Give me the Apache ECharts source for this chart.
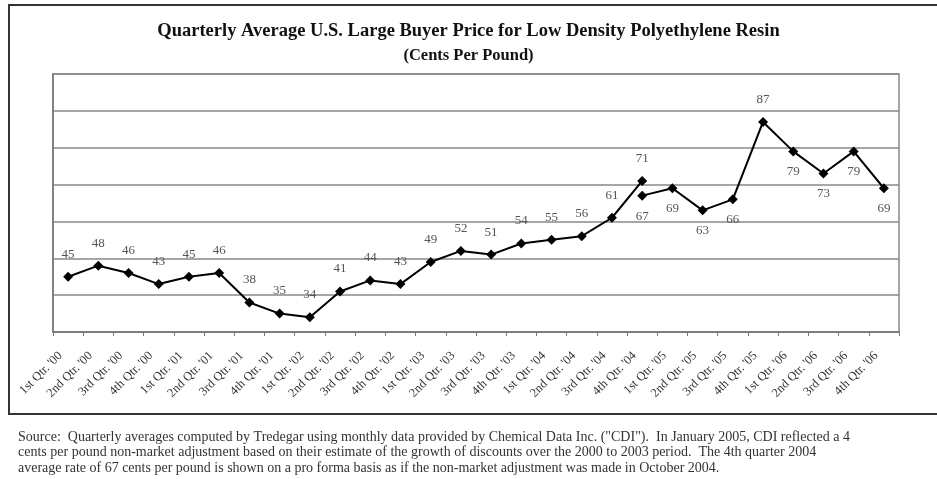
<!DOCTYPE html>
<html>
<head>
<meta charset="utf-8">
<script src="https://cdn.jsdelivr.net/npm/echarts@6/dist/echarts.min.js"></script>
<style>
  html, body { margin: 0; padding: 0; background: #fff; }
  #chart { width: 937px; height: 479px; }
</style>
</head>
<body>
<div id="chart"></div>
<script>
// quarters, 1st Qtr '00 .. 4th Qtr '06
var quarters = [
    "1st Qtr. '00", "2nd Qtr. '00", "3rd Qtr. '00", "4th Qtr. '00",
    "1st Qtr. '01", "2nd Qtr. '01", "3rd Qtr. '01", "4th Qtr. '01",
    "1st Qtr. '02", "2nd Qtr. '02", "3rd Qtr. '02", "4th Qtr. '02",
    "1st Qtr. '03", "2nd Qtr. '03", "3rd Qtr. '03", "4th Qtr. '03",
    "1st Qtr. '04", "2nd Qtr. '04", "3rd Qtr. '04", "4th Qtr. '04",
    "1st Qtr. '05", "2nd Qtr. '05", "3rd Qtr. '05", "4th Qtr. '05",
    "1st Qtr. '06", "2nd Qtr. '06", "3rd Qtr. '06", "4th Qtr. '06"
];

// reported prices up to 4th Qtr '04
var priceBefore = [45, 48, 46, 43, 45, 46, 38, 35, 34, 41, 44, 43,
                   49, 52, 51, 54, 55, 56, 61, 71];
// pro forma 4th Qtr '04 onward
var priceAfter = [67, 69, 63, 66, 87, 79, 73, 79, 69];
// labels of the second run that sit above the point
var aboveAfter = [87];

var yMin = 30, yMax = 100, yStep = 10;

var titleLines = [
    'Quarterly Average U.S. Large Buyer Price for Low Density Polyethylene Resin',
    '(Cents Per Pound)'
];

var footer = [
    'Source:  Quarterly averages computed by Tredegar using monthly data provided by Chemical Data Inc. ("CDI").  In January 2005, CDI reflected a 4',
    'cents per pound non-market adjustment based on their estimate of the growth of discounts over the 2000 to 2003 period.  The 4th quarter 2004',
    'average rate of 67 cents per pound is shown on a pro forma basis as if the non-market adjustment was made in October 2004.'
];

function padFront(arr, total) {
    var out = [];
    for (var i = 0; i < total; ++i) {
        if (i < arr.length) out.push(arr[i]);
        else out.push(null);
    }
    return out;
}

function padBack(arr, start) {
    var out = [];
    for (var i = 0; i < start; ++i) out.push(null);
    for (var j = 0; j < arr.length; ++j) {
        var v = arr[j];
        if (aboveAfter.indexOf(v) != -1) {
            out.push({value: v, label: {position: 'top', distance: 11}});
        } else {
            out.push(v);
        }
    }
    return out;
}

var serif = 'Liberation Serif';
var lineStyleCommon = {color: '#000', width: 2};
var labelCommon = {
    show: true,
    fontFamily: serif,
    fontSize: 13,
    color: '#555'
};

var footerText = footer.map(function(t, i) {
    return {
        type: 'text',
        left: 18,
        top: 430 + i * 15.5,
        style: {text: t, font: '14px "Liberation Serif"', fill: '#333'}
    };
});

var titleText = [{
    type: 'text',
    left: 'center',
    top: 22,
    style: {text: titleLines[0], font: 'bold 18.5px "Liberation Serif"', fill: '#111'}
}, {
    type: 'text',
    left: 'center',
    top: 47,
    style: {text: titleLines[1], font: 'bold 16.5px "Liberation Serif"', fill: '#111'}
}];

echarts.init(document.getElementById('chart')).setOption({
    animation: false,
    backgroundColor: '#fff',
    grid: {
        left: 53,
        right: 38,
        top: 74,
        bottom: 147,
        show: true,
        borderColor: '#888',
        borderWidth: 1.5
    },
    xAxis: {
        type: 'category',
        data: quarters,
        boundaryGap: true,
        axisLine: {lineStyle: {color: '#777', width: 1.5}},
        axisTick: {show: true, length: 4, lineStyle: {color: '#777'}},
        axisLabel: {
            interval: 0,
            rotate: 45,
            margin: 14,
            padding: [0, 11, 0, 0],
            fontFamily: serif,
            fontSize: 12.5,
            color: '#333'
        }
    },
    yAxis: {
        type: 'value',
        min: yMin,
        max: yMax,
        interval: yStep,
        axisLine: {show: true, lineStyle: {color: '#777', width: 1.5}},
        axisTick: {show: false},
        axisLabel: {show: false},
        splitLine: {lineStyle: {color: '#888', width: 1.5}}
    },
    graphic: [{
        type: 'rect',
        shape: {x: 9, y: 5, width: 940, height: 409},
        style: {fill: 'none', stroke: '#333', lineWidth: 2}
    }].concat(titleText, footerText),
    series: [{
        type: 'line',
        data: padFront(priceBefore, quarters.length),
        symbol: 'diamond',
        symbolSize: 10,
        itemStyle: {color: '#000'},
        lineStyle: lineStyleCommon,
        label: Object.assign({position: 'top', distance: 11}, labelCommon)
    }, {
        type: 'line',
        data: padBack(priceAfter, priceBefore.length - 1),
        symbol: 'diamond',
        symbolSize: 10,
        itemStyle: {color: '#000'},
        lineStyle: lineStyleCommon,
        label: Object.assign({position: 'bottom', distance: 9}, labelCommon)
    }]
});
</script>
</body>
</html>
